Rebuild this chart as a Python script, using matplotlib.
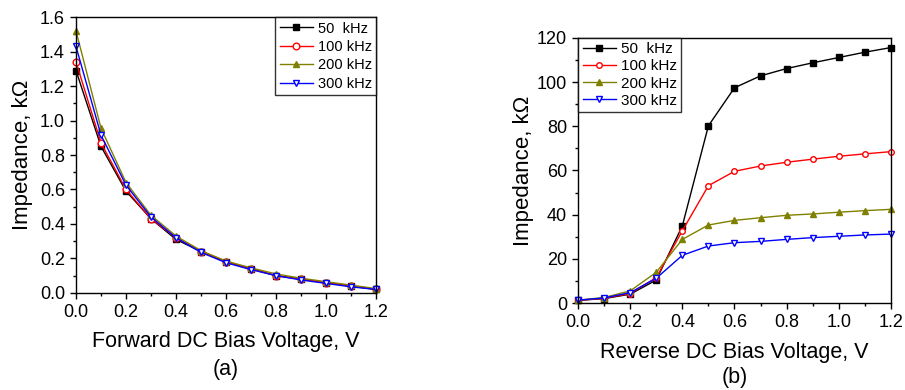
import matplotlib
matplotlib.use('Agg')
import matplotlib.pyplot as plt
from matplotlib.ticker import MultipleLocator

plt.rcParams['font.family'] = ['Liberation Sans', 'DejaVu Sans']

# --- data ---
voltage = [0.0, 0.1, 0.2, 0.3, 0.4, 0.5, 0.6, 0.7, 0.8, 0.9, 1.0, 1.1, 1.2]
labels = ['50  kHz', '100 kHz', '200 kHz', '300 kHz']

# forward bias, kOhm
fwd_50 = [1.29, 0.85, 0.59, 0.43, 0.31, 0.24, 0.18, 0.14, 0.10, 0.08, 0.06, 0.04, 0.02]
fwd_100 = [1.34, 0.87, 0.60, 0.43, 0.32, 0.24, 0.18, 0.14, 0.10, 0.08, 0.06, 0.04, 0.02]
fwd_200 = [1.52, 0.955, 0.64, 0.45, 0.33, 0.245, 0.185, 0.145, 0.11, 0.085, 0.065, 0.045, 0.025]
fwd_300 = [1.43, 0.915, 0.625, 0.44, 0.32, 0.235, 0.175, 0.135, 0.10, 0.075, 0.055, 0.035, 0.02]

# reverse bias, kOhm
rev_50 = [1.2, 2.0, 4.0, 10.4, 34.9, 80.2, 97.4, 102.8, 106.1, 108.7, 111.1, 113.5, 115.6]
rev_100 = [1.2, 2.2, 4.3, 11.5, 32.7, 53.1, 59.6, 62.0, 63.7, 65.1, 66.4, 67.5, 68.5]
rev_200 = [1.3, 2.5, 5.5, 13.9, 28.8, 35.3, 37.4, 38.6, 39.7, 40.3, 41.1, 41.8, 42.4]
rev_300 = [1.3, 2.3, 4.7, 11.2, 21.6, 25.8, 27.3, 27.9, 28.8, 29.6, 30.2, 30.8, 31.2]

colors = ['black', 'red', '#808000', 'blue']
markers = ['s', 'o', '^', 'v']
faces = ['black', 'white', '#808000', 'white']

fig = plt.figure(figsize=(9.05, 3.9), dpi=100)
ax1 = fig.add_axes([0.084, 0.249, 0.3315, 0.707])
ax2 = fig.add_axes([0.6387, 0.223, 0.3458, 0.680])


def draw(ax, series, ms):
    for y, c, m, f, lab in zip(series, colors, markers, faces, labels):
        ax.plot(voltage, y, color=c, marker=m, markerfacecolor=f,
                markeredgecolor=c, markersize=ms, linewidth=1.0,
                markeredgewidth=1.0, label=lab, clip_on=False)
    ax.set_xlim(0, 1.2)
    ax.xaxis.set_major_locator(MultipleLocator(0.2))
    ax.xaxis.set_minor_locator(MultipleLocator(0.1))
    ax.tick_params(which='both', direction='out', top=False, right=False,
                   labelsize=13)
    ax.tick_params(which='major', length=4.5, width=1)
    ax.tick_params(which='minor', length=2.5, width=1)
    for s in ax.spines.values():
        s.set_linewidth(1.0)


draw(ax1, [fwd_50, fwd_100, fwd_200, fwd_300], 4.8)
ax1.set_ylim(0, 1.6)
ax1.yaxis.set_major_locator(MultipleLocator(0.2))
ax1.yaxis.set_minor_locator(MultipleLocator(0.1))
ax1.set_ylabel('Impedance, k\u03a9', fontsize=16, labelpad=5)
ax1.set_xlabel('Forward DC Bias Voltage, V\n(a)', fontsize=15.5,
               linespacing=1.45, labelpad=7)
leg1 = ax1.legend(loc='upper right', fontsize=10.5, frameon=True, fancybox=False,
                  edgecolor='black', borderpad=0.3, labelspacing=0.3,
                  handlelength=2.3, handletextpad=0.3, borderaxespad=0.0)
leg1.get_frame().set_linewidth(1.0)

draw(ax2, [rev_50, rev_100, rev_200, rev_300], 4)
ax2.set_ylim(0, 120)
ax2.yaxis.set_major_locator(MultipleLocator(20))
ax2.yaxis.set_minor_locator(MultipleLocator(10))
ax2.set_ylabel('Impedance, k\u03a9', fontsize=16, labelpad=2)
ax2.set_xlabel('Reverse DC Bias Voltage, V\n(b)', fontsize=15.5,
               linespacing=1.25, labelpad=8)
leg2 = ax2.legend(loc='upper left', fontsize=11, frameon=True, fancybox=False,
                  edgecolor='black', borderpad=0.3, labelspacing=0.2,
                  handlelength=2.2, handletextpad=0.3, borderaxespad=0.0)
leg2.get_frame().set_linewidth(1.0)

fig.savefig('out.png', dpi=100)
plt.close(fig)
